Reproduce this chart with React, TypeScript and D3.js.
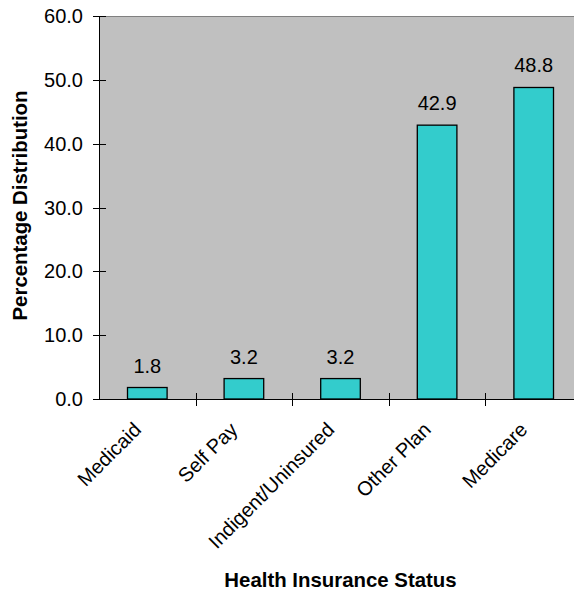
import React from "react";
import * as d3 from "d3";

const categories = ["Medicaid", "Self Pay", "Indigent/Uninsured", "Other Plan", "Medicare"];
const values = [1.8, 3.2, 3.2, 42.9, 48.8];
const yTicks = [0, 10, 20, 30, 40, 50, 60];
const yTitle = "Percentage Distribution";
const xTitle = "Health Insurance Status";

const W = 574;
const H = 594;
const plot = { left: 99, right: 582, top: 16, bottom: 399 };
const FONT = "'Liberation Sans', Arial, Helvetica, sans-serif";
const LABEL_SIZE = 20;
const TITLE_SIZE = 20.4;

export default function App() {
  const x = d3
    .scaleBand<string>()
    .domain(categories)
    .range([plot.left, plot.right])
    .paddingInner(0)
    .paddingOuter(0);
  const y = d3.scaleLinear().domain([0, 60]).range([plot.bottom, plot.top]);
  const bw = x.bandwidth();
  const barW = bw * 0.41;
  const fmt = d3.format(".1f");

  return (
    <svg
      width={W}
      height={H}
      style={{ position: "absolute", left: 0, top: 0, background: "#fff" }}
      fontFamily={FONT}
    >
      {/* plot area */}
      <rect x={plot.left} y={plot.top} width={plot.right - plot.left} height={plot.bottom - plot.top} fill="#C0C0C0" />
      <line x1={plot.left} x2={plot.right} y1={plot.top + 0.5} y2={plot.top + 0.5} stroke="#808080" strokeWidth={1} />

      {/* bars with value labels */}
      {categories.map((c, i) => {
        const cx = (x(c) as number) + bw / 2;
        return (
          <g key={c}>
            <rect
              x={cx - barW / 2}
              y={y(values[i])}
              width={barW}
              height={y(0) - y(values[i])}
              fill="#33CCCC"
              stroke="#000"
              strokeWidth={1.3}
            />
            <text x={cx} y={y(values[i]) - 15} textAnchor="middle" fontSize={LABEL_SIZE} fill="#000">
              {fmt(values[i])}
            </text>
          </g>
        );
      })}

      {/* y axis */}
      <line x1={plot.left + 0.5} x2={plot.left + 0.5} y1={plot.top} y2={plot.bottom} stroke="#000" strokeWidth={1} />
      {yTicks.map((t) => (
        <g key={t}>
          <line x1={plot.left - 6} x2={plot.left + 7} y1={Math.round(y(t)) + 0.5} y2={Math.round(y(t)) + 0.5} stroke="#000" />
          <text x={83} y={y(t) + 7} textAnchor="end" fontSize={LABEL_SIZE} fill="#000">
            {fmt(t)}
          </text>
        </g>
      ))}

      {/* x axis */}
      <line x1={plot.left} x2={plot.right} y1={plot.bottom + 0.5} y2={plot.bottom + 0.5} stroke="#000" strokeWidth={1} />
      {categories.slice(1).map((c) => (
        <line
          key={c}
          x1={Math.round(x(c) as number) + 0.5}
          x2={Math.round(x(c) as number) + 0.5}
          y1={plot.bottom - 6}
          y2={plot.bottom + 7}
          stroke="#000"
        />
      ))}
      {categories.map((c) => {
        const cx = (x(c) as number) + bw / 2;
        return (
          <text
            key={c}
            transform={`translate(${cx - 5},${431}) rotate(-45)`}
            textAnchor="end"
            fontSize={LABEL_SIZE}
            fill="#000"
          >
            {c}
          </text>
        );
      })}

      {/* axis titles */}
      <text x={340.5} y={586.5} textAnchor="middle" fontSize={TITLE_SIZE} fontWeight="bold" fill="#000">
        {xTitle}
      </text>
      <text
        transform={`translate(27,${(plot.top + plot.bottom) / 2 - 2}) rotate(-90)`}
        textAnchor="middle"
        fontSize={TITLE_SIZE}
        fontWeight="bold"
        fill="#000"
      >
        {yTitle}
      </text>
    </svg>
  );
}
